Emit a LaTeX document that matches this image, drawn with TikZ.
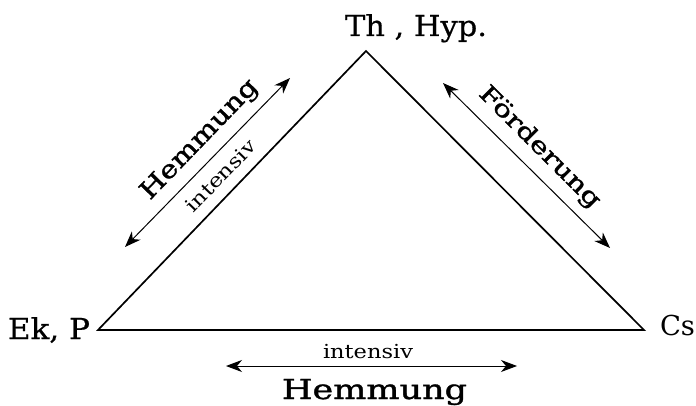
\documentclass[tikz,border=0pt]{standalone}
\usepackage{fontspec}
\setmainfont{DejaVu Serif}
\newfontfamily\semib[FakeBold=1.2]{DejaVu Serif}
\newfontfamily\medf[FakeBold=0.5]{DejaVu Serif}
\usepackage{graphicx}
\usetikzlibrary{arrows.meta}
\newcommand\capfit[3]{\resizebox{#1}{#2}{\raisebox{0pt}[\fontcharht\font`H][0pt]{#3}}}
\newcommand\xfit[3]{\resizebox{#1}{#2}{\raisebox{0pt}[\fontcharht\font`x][0pt]{#3}}}
\tikzset{
  lab/.style={inner sep=0pt, outer sep=0pt},
  edge/.style={line width=1.7pt, line join=miter},
  arr/.style={line width=1pt, <->, >={Stealth[length=16pt,width=12pt,inset=5pt]}}
}
\begin{document}
\begin{tikzpicture}[x=1pt,y=-1pt]
\useasboundingbox (0,0) rectangle (696,406);
% triangle vertices
\coordinate (L) at (98,330);
\coordinate (T) at (366,51);
\coordinate (R) at (644,330);
\draw[edge] (L) -- (T) -- (R) -- cycle;
% arrows
\coordinate (a1) at (125,247);
\coordinate (a2) at (290,78);
\coordinate (b1) at (443,83);
\coordinate (b2) at (610,248);
\coordinate (c1) at (226,366);
\coordinate (c2) at (517,366);
\draw[arr] (a1) -- (a2);
\draw[arr] (b1) -- (b2);
\draw[arr] (c1) -- (c2);
% vertex labels
\node[lab, anchor=base west] (th) at (345,36) {\medf\capfit{142pt}{21pt}{Th , Hyp.}};
\node[lab, anchor=base west] (ek) at (8,339) {\medf\capfit{82pt}{21pt}{Ek, P}};
\node[lab, anchor=base west] (cs) at (660,335) {\capfit{35pt}{20pt}{Cs}};
% bottom labels
\node[lab, anchor=base west] (int1) at (323,358) {\xfit{90pt}{10pt}{intensiv}};
\node[lab, anchor=base west] (hem1) at (282,399) {\semib\capfit{185pt}{20pt}{Hemmung}};
% slanted labels
\node[lab, rotate=46] (hem2) at (198,138) {\semib\capfit{157pt}{18pt}{Hemmung}};
\node[lab, rotate=46] (int2) at (222,177) {\xfit{92pt}{10pt}{intensiv}};
\node[lab, rotate=-45] (ford) at (541,146) {\semib\capfit{162pt}{17pt}{Förderung}};
\end{tikzpicture}
\end{document}
